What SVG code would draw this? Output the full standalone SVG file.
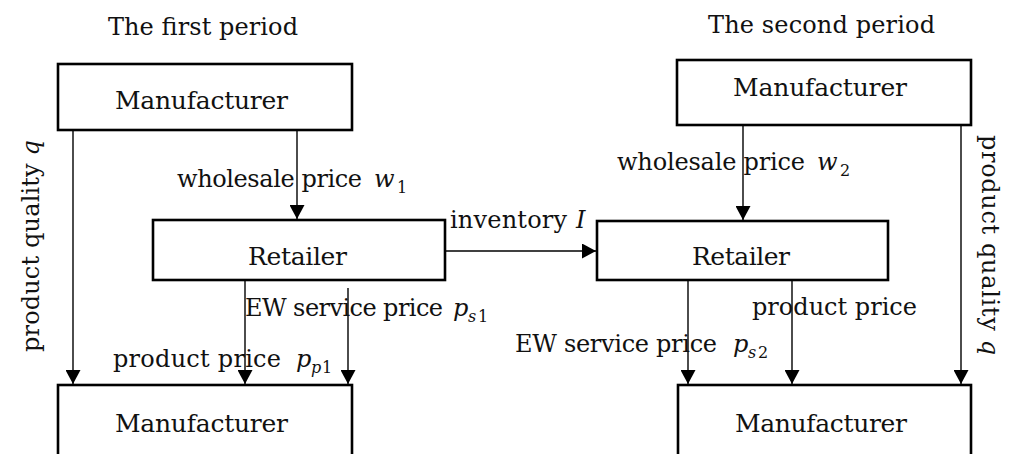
<svg xmlns="http://www.w3.org/2000/svg" width="1015" height="454" viewBox="0 0 1015 454">
<style>
.box{fill:#fff;stroke:#000;stroke-width:2.6}
.ln{stroke:#000;stroke-width:1.4;fill:none;marker-end:url(#ah)}
text{font-family:"DejaVu Serif","Liberation Serif",serif;font-size:24px;fill:#111}
.nm{font-size:25px}
.it{font-style:italic}
.sb{font-size:16px;font-style:italic}
.sn{font-size:16px}
</style>
<defs>
<marker id="ah" markerUnits="userSpaceOnUse" markerWidth="15" markerHeight="15" refX="14" refY="7.5" orient="auto">
<path d="M0,0 L14,7.5 L0,15 z" fill="#000"/>
</marker>
</defs>
<text x="108" y="35" textLength="190">The first period</text>
<text x="708" y="33" textLength="227">The second period</text>

<g id="connectors">
<line class="ln" x1="73" y1="131" x2="73" y2="384"/>
<line class="ln" x1="297" y1="131" x2="297" y2="219"/>
<line class="ln" x1="245" y1="281" x2="245" y2="384"/>
<line class="ln" x1="348" y1="288" x2="348" y2="384"/>
<line class="ln" x1="446" y1="251" x2="596" y2="251"/>
<line class="ln" x1="743" y1="126" x2="743" y2="220"/>
<line class="ln" x1="961" y1="126" x2="961" y2="384"/>
<line class="ln" x1="688" y1="281" x2="688" y2="384"/>
<line class="ln" x1="792" y1="281" x2="792" y2="384"/>
</g>

<g id="labels">
<text x="177" y="187" textLength="185">wholesale price</text>
<text x="374" y="187" class="it">w</text><text x="397" y="193" class="sn">1</text>
<text x="617" y="170" textLength="188">wholesale price</text>
<text x="817" y="170" class="it">w</text><text x="840" y="176" class="sn">2</text>
<text x="450" y="228" textLength="117">inventory</text>
<text x="576" y="228" class="it">I</text>
<text x="245" y="316" textLength="198">EW service price</text>
<text x="453" y="316" class="it">p</text><text x="468" y="322" class="sb">s</text><text x="478" y="322" class="sn">1</text>
<text x="113" y="367" textLength="168">product price</text>
<text x="296" y="367" class="it">p</text><text x="311" y="373" class="sb">p</text><text x="322" y="373" class="sn">1</text>
<text x="752" y="315" textLength="165">product price</text>
<text x="515" y="352" textLength="202">EW service price</text>
<text x="733" y="352" class="it">p</text><text x="748" y="358" class="sb">s</text><text x="758" y="358" class="sn">2</text>
<text transform="translate(39,352) rotate(-90)" textLength="212">product quality <tspan class="it">q</tspan></text>
<text transform="translate(982,135) rotate(90)" textLength="220">product quality <tspan class="it">q</tspan></text>
</g>

<g id="mfr1-top">
<rect class="box" x="58" y="64" width="294" height="66"/>
<text class="nm" x="115" y="109" textLength="173">Manufacturer</text>
</g>
<g id="retailer1">
<rect class="box" x="153" y="220" width="292" height="60"/>
<text class="nm" x="248" y="265" textLength="99">Retailer</text>
</g>
<g id="mfr1-bottom">
<rect class="box" x="58" y="385" width="294" height="80"/>
<text class="nm" x="115" y="432" textLength="173">Manufacturer</text>
</g>
<g id="mfr2-top">
<rect class="box" x="677" y="60" width="294" height="65"/>
<text class="nm" x="733" y="96" textLength="174">Manufacturer</text>
</g>
<g id="retailer2">
<rect class="box" x="597" y="221" width="291" height="59"/>
<text class="nm" x="692" y="265" textLength="98">Retailer</text>
</g>
<g id="mfr2-bottom">
<rect class="box" x="678" y="385" width="293" height="80"/>
<text class="nm" x="735" y="432" textLength="172">Manufacturer</text>
</g>
</svg>
